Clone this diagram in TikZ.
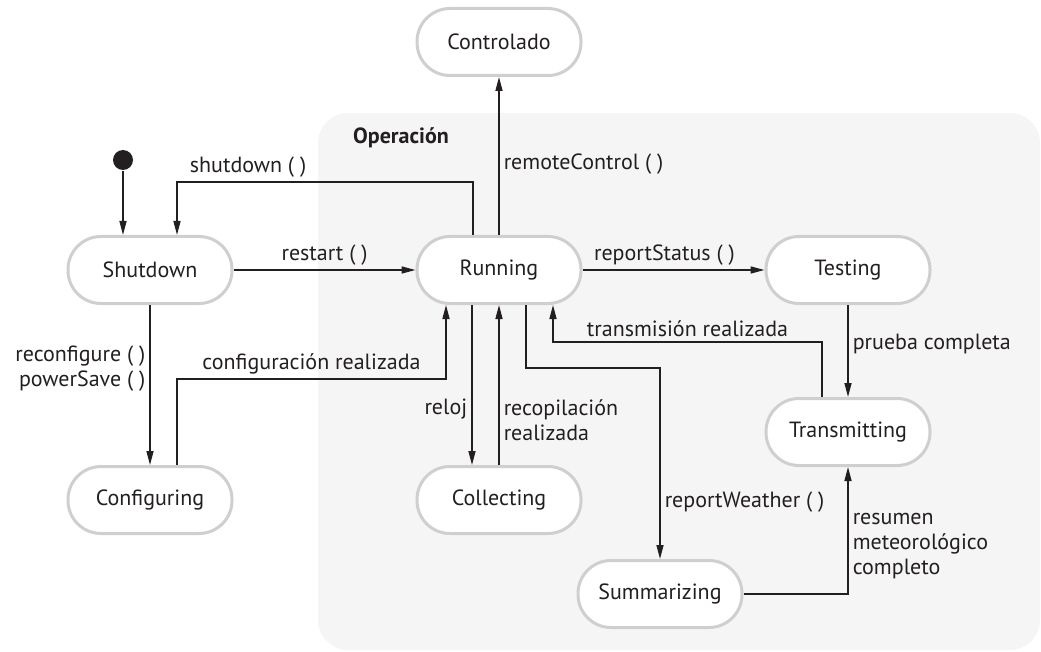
\documentclass[tikz,border=0pt]{standalone}
\usepackage{fontspec}
\setmainfont{PT Sans}
\usetikzlibrary{arrows.meta}
\definecolor{cink}{HTML}{231F20}
\definecolor{cedge}{HTML}{CFCFCF}
\definecolor{cregion}{HTML}{F5F5F5}
\tikzset{
  every picture/.style={font=\fontsize{22}{25}\selectfont, line width=1.5pt},
  state/.style={draw=cedge, fill=white, line width=3pt, rounded corners=33pt, minimum width=164pt, minimum height=67pt, inner sep=0pt, outer sep=1.5pt, text=cink},
  arrow/.style={-{Triangle[length=14pt, width=7pt]}, draw=cink, line width=1.5pt},
  lab/.style={text=cink, inner sep=4pt, align=left},
}
\begin{document}
\begin{tikzpicture}[x=1pt, y=-1pt,
  start/.style={circle, fill=cink, minimum size=20pt, inner sep=0pt},
  region/.style={fill=cregion, rounded corners=30pt},
  title/.style={font=\fontsize{22}{25}\selectfont\bfseries, text=cink}]
  \useasboundingbox (0,0) rectangle (1041,652);
  % composite state
  \fill[region] (318,113) rectangle (1040,650);
  \node[title] (optitle) at (401,138) {Operación};
  \node[start] (init) at (123,160) {};
  \node[state] (ctrl) at (499,42) {Controlado};
  \node[state] (sd) at (150,270) {Shutdown};
  \node[state] (run) at (499,270) {Running};
  \node[state] (test) at (848,270) {Testing};
  \node[state] (trans) at (848,432) {Transmitting};
  \node[state] (conf) at (150,500) {Configuring};
  \node[state] (coll) at (499,500) {Collecting};
  \node[state] (summ) at (660,594) {Summarizing};
  \draw[arrow] (init) -- (init |- sd.north);
  \draw[arrow] ([xshift=-26pt]run.north) -- ++(0,-53) -| node[lab, above, pos=0.38] {shutdown ( )} ([xshift=27pt]sd.north);
  \draw[arrow] (sd) -- node[lab, above] {restart ( )} (run);
  \draw[arrow] (run) -- node[lab, right, pos=0.45] {remoteControl ( )} (ctrl);
  \draw[arrow] (sd) -- node[lab, left, align=right, pos=0.4] {reconfigure ( )\\powerSave ( )} (conf);
  \draw[arrow] ([xshift=27pt]conf.north) -- ++(0,-86) -| node[lab, above, pos=0.25] {configuración realizada} ([xshift=-53pt]run.south);
  \draw[arrow] ([xshift=-27pt]run.south) -- node[lab, left, pos=0.65] {reloj} ([xshift=-27pt]coll.north);
  \draw[arrow] (coll) -- node[lab, right, pos=0.28] {recopilación\\realizada} (run);
  \draw[arrow] ([xshift=27pt]run.south) -- ++(0,63) -| node[lab, right, pos=0.85] {reportWeather ( )} (summ.north);
  \draw[arrow] (run) -- node[lab, above, pos=0.45] {reportStatus ( )} (test);
  \draw[arrow] (test) -- node[lab, right, pos=0.42] {prueba completa} (trans);
  \draw[arrow] ([xshift=-26pt]trans.north) -- ++(0,-55) -| node[lab, above, pos=0.25] {transmisión realizada} ([xshift=54pt]run.south);
  \draw[arrow] (summ) -| node[lab, right, pos=0.69] {resumen\\meteorológico\\completo} (trans);
\end{tikzpicture}
\end{document}
